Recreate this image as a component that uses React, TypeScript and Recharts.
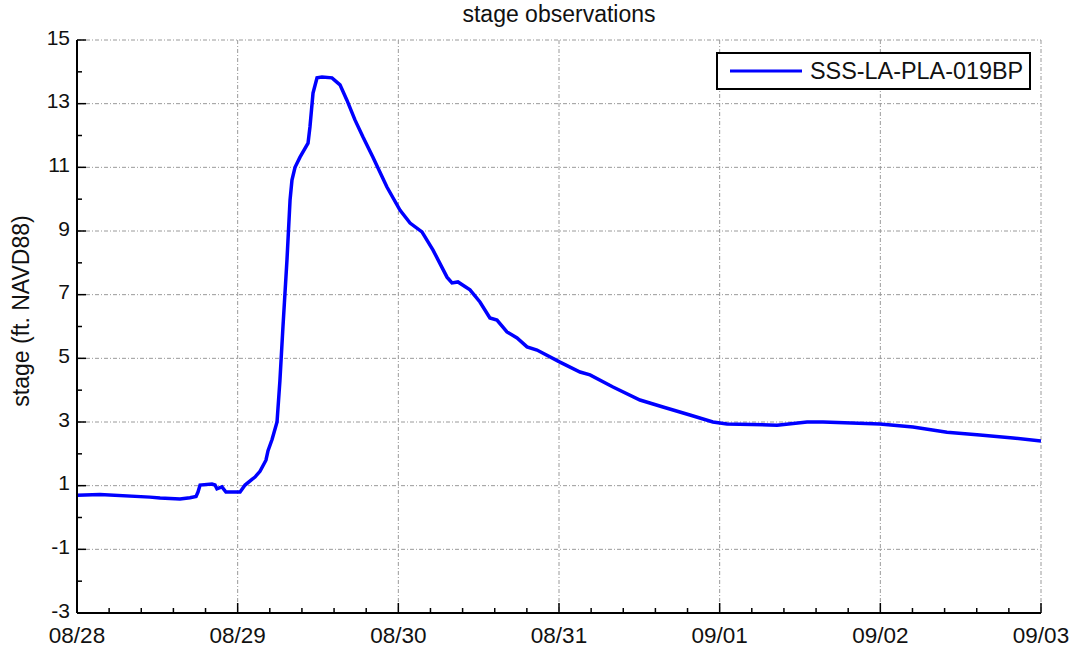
import React from 'react';
import { LineChart, Line, XAxis, YAxis, CartesianGrid } from 'recharts';

// time in days since 08/28 00:00, stage in ft NAVD88
const days = [
  0.0, 0.143, 0.454, 0.517, 0.641, 0.703, 0.741, 0.753, 0.766, 0.84, 0.859, 0.871, 0.902, 0.927,
  1.015, 1.046, 1.089, 1.108, 1.139, 1.176, 1.189, 1.214, 1.245, 1.263, 1.282, 1.307, 1.326, 1.338,
  1.357, 1.388, 1.438, 1.45, 1.469, 1.494, 1.525, 1.587, 1.637, 1.68, 1.73, 1.78, 1.842, 1.929,
  2.01, 2.073, 2.147, 2.216, 2.303, 2.334, 2.371, 2.446, 2.508, 2.57, 2.614, 2.676, 2.739, 2.801,
  2.863, 3.006, 3.131, 3.193, 3.336, 3.504, 3.647, 3.815, 3.958, 4.046, 4.357, 4.544, 4.643, 4.998,
  5.203, 5.415, 5.62, 5.826, 6.0,
];
const stage = [
  0.7, 0.72, 0.64, 0.61, 0.58, 0.62, 0.66, 0.8, 1.02, 1.05, 1.02, 0.9, 0.96, 0.8,
  0.8, 1.02, 1.2, 1.27, 1.45, 1.8, 2.1, 2.45, 3.0, 4.3, 6.0, 8.1, 9.97, 10.6,
  11.0, 11.32, 11.76, 12.27, 13.33, 13.81, 13.84, 13.81, 13.59, 13.11, 12.49, 11.95, 11.32, 10.38,
  9.66, 9.25, 8.97, 8.4, 7.55, 7.37, 7.4, 7.15, 6.77, 6.27, 6.2, 5.83, 5.64, 5.36,
  5.26, 4.88, 4.57, 4.48, 4.1, 3.69, 3.47, 3.22, 3.0, 2.94, 2.9, 3.0, 3.0, 2.94,
  2.84, 2.68, 2.59, 2.5, 2.4,
];

const dayLabels = ['08/28', '08/29', '08/30', '08/31', '09/01', '09/02', '09/03'];
const yMajor = [-3, -1, 1, 3, 5, 7, 9, 11, 13, 15];
const seriesName = 'SSS-LA-PLA-019BP';

const data = days.map((d, i) => ({ t: d, v: stage[i] }));
const xMajor = dayLabels.map((_, i) => i);
const xTicks = Array.from({ length: (dayLabels.length - 1) * 5 + 1 }, (_, i) => i / 5);
const yTicks = Array.from({ length: 19 }, (_, i) => i - 3);

const FONT = '"Liberation Sans", Arial, sans-serif';
const isMajorX = (v: number) => Math.abs(v - Math.round(v)) < 1e-6;
const isMajorY = (v: number) => yMajor.includes(v);

const BottomTick = (p: any) => {
  const v = p.payload.value;
  const major = isMajorX(v);
  return (
    <g>
      <line x1={p.x} x2={p.x} y1={p.y} y2={p.y - (major ? 10 : 5)} stroke="#000" strokeWidth={1.5} />
      {major && (
        <text x={p.x} y={p.y + 29.5} textAnchor="middle" fontSize={22.5} fontFamily={FONT} fill="#111">
          {dayLabels[Math.round(v)]}
        </text>
      )}
    </g>
  );
};

const TopTick = (p: any) => {
  const major = isMajorX(p.payload.value);
  return <line x1={p.x} x2={p.x} y1={p.y} y2={p.y + (major ? 10 : 5)} stroke="#000" strokeWidth={1.5} />;
};

const LeftTick = (p: any) => {
  const v = p.payload.value;
  const major = isMajorY(v);
  return (
    <g>
      <line x1={p.x} x2={p.x + (major ? 9 : 5)} y1={p.y} y2={p.y} stroke="#000" strokeWidth={1.5} />
      {major && (
        <text x={p.x - 7} y={p.y + 4.5} textAnchor="end" fontSize={21} fontFamily={FONT} fill="#111">
          {v}
        </text>
      )}
    </g>
  );
};

const RightTick = (p: any) => {
  const major = isMajorY(p.payload.value);
  return <line x1={p.x} x2={p.x - (major ? 9 : 5)} y1={p.y} y2={p.y} stroke="#000" strokeWidth={1.5} />;
};

const YLabel = () => (
  <text x={29} y={311} transform="rotate(-90 29 311)" textAnchor="middle" fontSize={23} fontFamily={FONT} fill="#111">
    stage (ft. NAVD88)
  </text>
);

export default function App() {
  return (
    <div style={{ position: 'absolute', left: 0, top: 0, width: 1073, height: 646, background: '#fff' }}>
      <div
        style={{
          position: 'absolute', left: 77, top: 0, width: 964, textAlign: 'center',
          fontFamily: FONT, fontSize: 23, lineHeight: '28px', color: '#111',
        }}
      >
        stage observations
      </div>
      <LineChart width={1073} height={646} data={data} margin={{ top: 40, right: 32, bottom: 3, left: 17 }}>
        <CartesianGrid
          stroke="#9a9a9a"
          strokeDasharray="4 2 1 2"
          xAxisId="b"
          yAxisId="l"
          verticalValues={xMajor}
          horizontalValues={yMajor}
        />
        <XAxis
          xAxisId="b"
          dataKey="t"
          type="number"
          domain={[0, 6]}
          ticks={xTicks}
          interval={0}
          height={30}
          tickSize={0}
          tickMargin={0}
          tickLine={false}
          tick={BottomTick}
          axisLine={{ stroke: '#000', strokeWidth: 2 }}
          allowDataOverflow
        />
        <XAxis
          xAxisId="t"
          orientation="top"
          dataKey="t"
          type="number"
          domain={[0, 6]}
          ticks={xTicks}
          interval={0}
          height={0}
          tickSize={0}
          tickMargin={0}
          tickLine={false}
          tick={TopTick}
          axisLine={{ stroke: '#000', strokeWidth: 2 }}
        />
        <YAxis
          yAxisId="l"
          type="number"
          domain={[-3, 15]}
          ticks={yTicks}
          interval={0}
          width={60}
          tickSize={0}
          tickMargin={0}
          tickLine={false}
          tick={LeftTick}
          axisLine={{ stroke: '#000', strokeWidth: 2 }}
          label={{ content: YLabel }}
          allowDataOverflow
        />
        <YAxis
          yAxisId="r"
          orientation="right"
          type="number"
          domain={[-3, 15]}
          ticks={yTicks}
          interval={0}
          width={0}
          tickSize={0}
          tickMargin={0}
          tickLine={false}
          tick={RightTick}
          axisLine={{ stroke: '#000', strokeWidth: 2 }}
        />
        <Line
          xAxisId="b"
          yAxisId="l"
          dataKey="v"
          type="linear"
          stroke="#0000ff"
          strokeWidth={3.5}
          dot={false}
          isAnimationActive={false}
        />
      </LineChart>
      <div
        style={{
          position: 'absolute', left: 716, top: 52, width: 311, height: 34,
          border: '2px solid #000', background: '#fff', display: 'flex', alignItems: 'center',
        }}
      >
        <svg width={92} height={34} style={{ display: 'block' }}>
          <line x1={12} x2={84} y1={17} y2={17} stroke="#0000ff" strokeWidth={3} />
        </svg>
        <span style={{ fontFamily: FONT, fontSize: 23.4, color: '#111', whiteSpace: 'nowrap' }}>{seriesName}</span>
      </div>
    </div>
  );
}
